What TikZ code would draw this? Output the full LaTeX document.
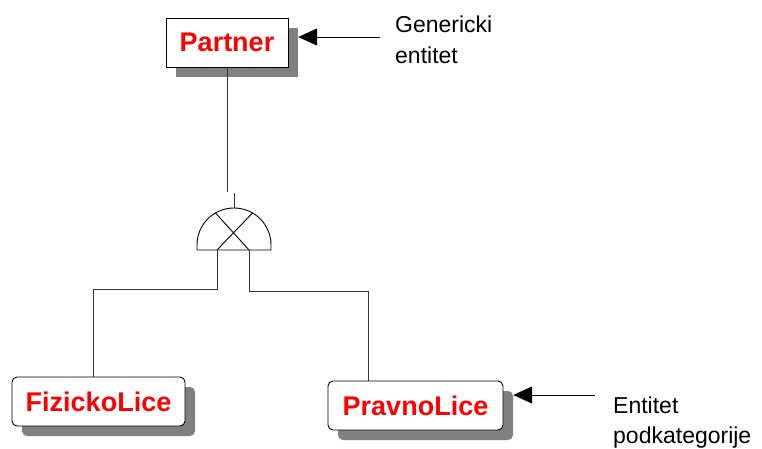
\documentclass[tikz,border=0pt]{standalone}
\usepackage{fontspec}
\setmainfont{Liberation Sans}
\usetikzlibrary{arrows.meta,calc}
\begin{document}
\begin{tikzpicture}[x=1pt,y=-1pt,
  entbox/.style={draw=black, line width=0.9pt, fill=white, minimum height=49pt,
    inner sep=0pt, text=red, font=\fontsize{27}{30}\selectfont\bfseries},
  shadowbox/.style={fill=black!50, draw=none, minimum height=49pt, inner sep=0pt},
  note/.style={anchor=base west, inner sep=0pt, font=\fontsize{23}{30}\selectfont},
  conn/.style={draw=black!80, line width=0.8pt},
  arr/.style={draw=black, line width=1pt, -{Triangle[length=19pt,width=17pt]}}]
\useasboundingbox (0,0) rectangle (762,448);

% drop shadows behind the entity boxes
\node[shadowbox, minimum width=122pt] (pshadow) at (237,52.5) {};
\node[shadowbox, minimum width=173pt, rounded corners=5pt] (fshadow) at (108.5,411.5) {};
\node[shadowbox, minimum width=175pt, rounded corners=5pt] (rshadow) at (425.5,415.5) {};

% entities
\node[entbox, minimum width=122pt] (partner) at (227,42.5) {Partner};
\node[entbox, minimum width=173pt, rounded corners=5pt] (fiz) at (98.5,401.5) {FizickoLice};
\node[entbox, minimum width=175pt, rounded corners=5pt] (prav) at (415.5,405.5) {PravnoLice};

% exclusive specialisation symbol (y axis points down, so the dome uses 180..360)
\coordinate (gate) at (234,250);
\coordinate (gl) at (217,250);
\coordinate (gr) at (249,250);
\draw[line width=0.9pt] (197,250) -- (197,245) arc[start angle=180, end angle=360, radius=37] -- (271,250) -- cycle;
\draw[line width=0.9pt] (gl) -- ($(234,245)+(300:37)$);
\draw[line width=0.9pt] (gr) -- ($(234,245)+(240:37)$);

% connectors
\draw[conn] (partner.south) -- ++(0,125);
\draw[conn] (234,193) -- (234,208);
\draw[conn] (gl) -- ++(0,39) -| ([xshift=-5.5pt]fiz.north);
\draw[conn] (gr) -- ++(0,41) -| ([xshift=-47.5pt]prav.north);

% annotations
\node[note] (gen1) at (395,32) {Genericki};
\node[note] (gen2) at (395,63) {entitet};
\node[note] (sub1) at (613,413) {Entitet};
\node[note] (sub2) at (613,443) {podkategorije};
\coordinate (gtail) at (380,37);
\coordinate (stail) at (595,395);
\draw[arr] (gtail) -- (gtail -| pshadow.east);
\draw[arr] (stail) -- (stail -| rshadow.east);
\end{tikzpicture}
\end{document}
